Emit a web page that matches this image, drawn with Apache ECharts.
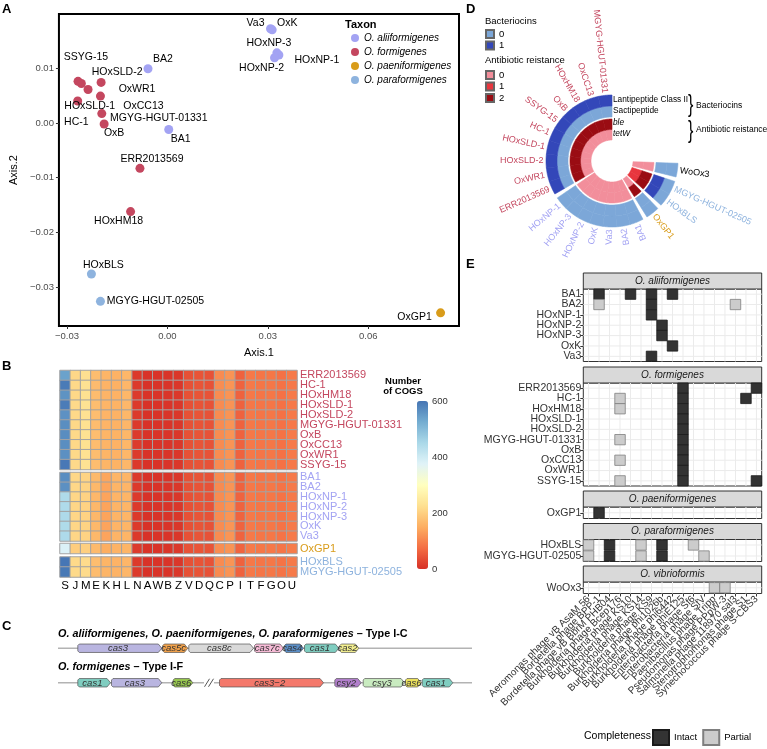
<!DOCTYPE html>
<html><head><meta charset="utf-8">
<script src="https://cdn.jsdelivr.net/npm/echarts@6/dist/echarts.min.js"></script>
<style>html,body{margin:0;padding:0;background:#fff}#c{width:767px;height:749px}</style>
</head><body><div id="c"></div>
<script>
const FONT = "'Liberation Sans', Arial, Helvetica, sans-serif";

// ================= Panel A data =================
const taxa = ['O. aliiformigenes','O. formigenes','O. paeniformigenes','O. paraformigenes'];
const taxonColors = ['#a3a3f3','#c4475f','#d99c1a','#8eb3de'];
const aStrains = ['Va3','OxK','HOxNP-3','HOxNP-1','HOxNP-2','BA2','BA1','SSYG-15','HC-1','OxWR1','HOxSLD-1','HOxSLD-2','OxCC13','MGYG-HGUT-01331','OxB','ERR2013569','HOxHM18','OxGP1','HOxBLS','MGYG-HGUT-02505'];
const aTaxon = [0,0,0,0,0,0,0,1,1,1,1,1,1,1,1,1,1,2,3,3];
const aAxis1 = [0.0308,0.0313,0.0327,0.0333,0.0320,-0.0058,0.0004,-0.0267,-0.0257,-0.0237,-0.0268,-0.0198,-0.0200,-0.0196,-0.0189,-0.0082,-0.0110,0.0816,-0.0227,-0.0200];
const aAxis2 = [0.0172,0.0170,0.0128,0.0124,0.0119,0.0099,-0.0012,0.0076,0.0072,0.0061,0.0040,0.0074,0.0049,0.0017,-0.0002,-0.0083,-0.0162,-0.0347,-0.0276,-0.0326];
const aTicks1 = [-0.03,0,0.03,0.06];
const aTicks2 = [-0.03,-0.02,-0.01,0,0.01];
// label placement (style only, pixels)
const aLabelOffset = {'Va3':[-15,-6],'OxK':[15,-7],'HOxNP-3':[-8,-10],'HOxNP-1':[38,5],'HOxNP-2':[-13,10],'BA2':[15,-10],'BA1':[12,10],'SSYG-15':[8,-24],'HC-1':[-5,39],'OxWR1':[49,0],'HOxSLD-1':[12,5],'HOxSLD-2':[16,-10],'OxCC13':[43,10],'MGYG-HGUT-01331':[57,4],'OxB':[10,9],'ERR2013569':[12,-9],'HOxHM18':[-12,10],'OxGP1':[-26,4],'HOxBLS':[12,-9],'MGYG-HGUT-02505':[55,0]};

// ================= Panel B data =================
const cogCats = ['S','J','M','E','K','H','L','N','A','W','B','Z','V','D','Q','C','P','I','T','F','G','O','U'];
const bRowsF = ['ERR2013569','HC-1','HOxHM18','HOxSLD-1','HOxSLD-2','MGYG-HGUT-01331','OxB','OxCC13','OxWR1','SSYG-15'];
const bValsF = [
 [540,212,226,172,160,156,163,12,3,4,5,9,40,44,42,110,120,62,88,84,86,80,90],
 [592,214,228,170,158,155,162,12,3,4,5,9,40,45,42,112,121,63,89,85,87,81,89],
 [560,213,227,171,159,156,163,13,4,4,6,10,41,44,43,111,120,62,88,84,86,80,90],
 [590,215,229,173,160,157,164,12,3,4,5,9,39,44,42,110,119,61,87,84,85,80,89],
 [562,214,228,172,159,156,163,12,3,4,5,9,40,44,42,111,120,62,88,84,86,80,90],
 [566,213,227,171,159,156,162,12,3,4,5,9,40,44,42,110,120,62,88,84,86,80,89],
 [568,214,228,172,160,157,163,12,3,4,5,9,40,44,42,111,120,62,88,85,86,81,90],
 [566,213,227,171,159,156,163,13,3,4,5,9,40,45,42,110,120,62,88,84,86,80,90],
 [564,214,228,172,160,156,163,12,3,4,5,9,40,44,42,111,120,62,88,84,86,80,90],
 [596,215,229,173,160,157,164,12,3,4,5,9,40,44,42,110,120,62,88,84,86,80,89]
];
const bRowsA = ['BA1','BA2','HOxNP-1','HOxNP-2','HOxNP-3','OxK','Va3'];
const bValsA = [
 [566,212,206,166,141,160,160,12,3,4,5,9,40,44,42,110,120,62,88,84,86,82,90],
 [564,212,206,165,140,160,161,12,3,4,5,9,40,44,42,110,120,62,88,84,86,82,90],
 [445,210,204,164,138,159,160,12,3,4,5,9,41,45,42,111,121,63,89,85,86,82,90],
 [445,210,204,164,138,159,160,12,3,4,5,9,41,45,42,111,121,63,89,85,86,82,90],
 [446,210,204,164,138,159,160,12,3,4,5,9,41,45,42,111,121,63,89,85,86,82,90],
 [444,210,205,165,139,159,160,12,3,4,5,9,41,45,42,111,121,63,89,85,86,82,90],
 [446,210,205,165,139,159,160,12,3,4,5,9,41,45,42,111,121,63,89,85,86,82,90]
];
const bRowsP = ['OxGP1'];
const bValsP = [[382,196,200,168,150,158,160,13,4,5,6,10,42,46,44,112,120,64,90,86,88,84,92]];
const bRowsR = ['HOxBLS','MGYG-HGUT-02505'];
const bValsR = [
 [598,216,218,172,160,158,162,12,3,4,5,9,40,44,42,110,120,62,88,84,86,82,90],
 [595,216,218,171,160,158,162,12,3,4,5,9,40,44,42,110,120,62,88,84,86,82,90]
];

// ================= Panel C data =================
const cSystems = ['I-C','I-F'];
const cHeadings = [['O. aliiformigenes, O. paeniformigenes, O. paraformigenes',' \u2013 Type I-C'],['O. formigenes',' \u2013 Type I-F']];
const geneNames  = ['cas3','cas5c','cas8c','cas7c','cas4','cas1','cas2','cas1','cas3','cas6','cas3\u22122','csy2','csy3','cas6','cas1'];
const geneStart  = [19.3,104.3,130.3,196,226,246,281.3, 19.3,53,114.7,161,276.3,304.7,347,363.7];
const geneEnd    = [104.3,130.3,196,226,246,281.3,301.3, 53,104.3,135.3,266,303.7,347,363.7,395.3];
const geneSystem = [0,0,0,0,0,0,0, 1,1,1,1,1,1,1,1];
const geneColor  = ['#b9b5e0','#f2a24b','#d9d9d9','#f8bcd8','#5b8ec6','#7fcdc0','#f3ef8f','#7fcdc0','#b9b5e0','#98c84f','#f4786b','#b27fcc','#c9ebc0','#ece25e','#7fcdc0'];
const backboneStart = [0, 0, 156];
const backboneEnd   = [414, 146, 414];
const backboneSys   = [0, 1, 1];
const breakPos = [149, 153];
const breakSys = [1, 1];

// ================= Panel D data =================
const dStrains = ['MGYG-HGUT-01331','OxCC13','HOxHM18','OxB','SSYG-15','HC-1','HOxSLD-1','HOxSLD-2','OxWR1','ERR2013569','HOxNP-1','HOxNP-3','HOxNP-2','OxK','Va3','BA2','BA1','OxGP1','HOxBLS','MGYG-HGUT-02505','WoOx3'];
const dGroup  = [0,0,0,0,0,0,0,0,0,0,1,1,1,1,1,1,1,2,3,3,4];
const dLanti  = [1,1,1,1,1,1,1,1,1,1,0,0,0,0,0,0,0,0,0,0,0];
const dSacti  = [0,0,0,0,0,0,0,0,0,0,0,0,0,0,0,0,0,0,1,1,0];
const dBle    = [2,2,2,2,2,2,2,2,2,2,0,0,0,0,0,0,0,2,2,2,0];
const dTetW   = [0,0,0,0,0,0,0,0,0,0,0,0,0,0,0,0,0,0,1,1,0];
const dGroupColor = ['#c4475f','#a3a3f3','#d99c1a','#8eb3de','#000000'];
const bacColors = ['#7ca7d8','#3347b9'];
const abrColors = ['#f28e9b','#e8363e','#9a0c13'];

// ================= Panel E data =================
const phages = ['Aeromonas phage vB AsaM 56','Bordetella phage BPP-1','Bordetella phage vB BbrM PHB04','Burkholderia phage Bcep176','Burkholderia phage KS10','Burkholderia phage KS14','Burkholderia phage KS9','Burkholderia phage phi1026b','Burkholderia phage phi6442','Burkholderia phage phiE125','Enterobacteria phage Sf6','Enterobacteria phage SfV','Paenibacillus phage Tripp','Pseudomonas phage PPpW-3','Salmonella phage 118970 sal3','Stenotrophomonas phage S1','Synechococcus phage S-CBS3'];
const eFacets = ['O. aliiformigenes','O. formigenes','O. paeniformigenes','O. paraformigenes','O. vibrioformis'];
const eRows = [
 ['BA1','BA2','HOxNP-1','HOxNP-2','HOxNP-3','OxK','Va3'],
 ['ERR2013569','HC-1','HOxHM18','HOxSLD-1','HOxSLD-2','MGYG-HGUT-01331','OxB','OxCC13','OxWR1','SSYG-15'],
 ['OxGP1'],
 ['HOxBLS','MGYG-HGUT-02505'],
 ['WoOx3']
];
// [strain, phage index (0-based), completeness]
const eHits = [
 [['BA1',1,'Intact'],['BA1',4,'Intact'],['BA1',6,'Intact'],['BA1',8,'Intact'],['BA2',1,'Partial'],['BA2',6,'Intact'],['BA2',14,'Partial'],['HOxNP-1',6,'Intact'],['HOxNP-2',7,'Intact'],['HOxNP-3',7,'Intact'],['OxK',8,'Intact'],['Va3',6,'Intact']],
 [['ERR2013569',9,'Intact'],['ERR2013569',16,'Intact'],['HC-1',3,'Partial'],['HC-1',9,'Intact'],['HC-1',15,'Intact'],['HOxHM18',3,'Partial'],['HOxHM18',9,'Intact'],['HOxSLD-1',9,'Intact'],['HOxSLD-2',9,'Intact'],['MGYG-HGUT-01331',3,'Partial'],['MGYG-HGUT-01331',9,'Intact'],['OxB',9,'Intact'],['OxCC13',3,'Partial'],['OxCC13',9,'Intact'],['OxWR1',9,'Intact'],['SSYG-15',3,'Partial'],['SSYG-15',9,'Intact'],['SSYG-15',16,'Intact']],
 [['OxGP1',1,'Intact']],
 [['HOxBLS',0,'Partial'],['HOxBLS',2,'Intact'],['HOxBLS',5,'Partial'],['HOxBLS',7,'Intact'],['HOxBLS',10,'Partial'],['MGYG-HGUT-02505',0,'Partial'],['MGYG-HGUT-02505',2,'Intact'],['MGYG-HGUT-02505',5,'Partial'],['MGYG-HGUT-02505',7,'Intact'],['MGYG-HGUT-02505',11,'Partial']],
 [['WoOx3',12,'Partial'],['WoOx3',13,'Partial']]
];
const completeness = ['Intact','Partial'];
const completenessFill = {'Intact':'#333333','Partial':'#cccccc'};
const completenessStroke = {'Intact':'#1a1a1a','Partial':'#7f7f7f'};

// ================= Layout (style) =================
const bLeft = 60, bWidth = 237;
const bTops = [370.5, 472.5, 543.5, 557];
const bHeights = [99, 68.5, 10, 20];
const eLeft = 583.3, eWidth = 178.4, eStripH = 16;
const eTops = [289, 383, 507, 539.5, 582];
const eHeights = [72.5, 103, 11.5, 22, 11.5];
const dCenter = [612, 161], dOuter = 66;
const dSlot = 12, dGap = 4, dLabelR = 68.5;
const dRingR = [[55,66],[44,55],[31.5,42],[21,31.5]];

// ================= Build =================
const grids = [], xAxes = [], yAxes = [], series = [], titles = [], graphics = [];
const tickStyle = {show:true, length:3, lineStyle:{color:'#333', width:1}};
const edgeLabels = {showMinLabel:true, showMaxLabel:true};

// ---- A
grids.push({left:55, top:14, width:404, height:312, show:true, borderColor:'#000', borderWidth:2, backgroundColor:'rgba(0,0,0,0)'});
const fmtA = v => (v < -1e-9 ? '\u2212' : '') + Math.abs(v).toFixed(2);
xAxes.push({gridIndex:0, type:'value', min:-0.0324, max:0.0871, name:'Axis.1', nameLocation:'middle', nameGap:21,
  nameTextStyle:{fontSize:11, color:'#000', fontFamily:FONT},
  axisLine:{show:false, onZero:false}, splitLine:{show:false},
  axisTick:Object.assign({customValues:aTicks1}, tickStyle),
  axisLabel:Object.assign({customValues:aTicks1, formatter:fmtA, fontSize:9.5, color:'#4d4d4d', margin:5, fontFamily:FONT}, edgeLabels)});
yAxes.push({gridIndex:0, type:'value', min:-0.0371, max:0.0199, name:'Axis.2', nameLocation:'middle', nameGap:37, nameRotate:90,
  nameTextStyle:{fontSize:11, color:'#000', fontFamily:FONT},
  axisLine:{show:false, onZero:false}, splitLine:{show:false},
  axisTick:Object.assign({customValues:aTicks2}, tickStyle),
  axisLabel:Object.assign({customValues:aTicks2, formatter:fmtA, fontSize:9.5, color:'#4d4d4d', margin:5, fontFamily:FONT}, edgeLabels)});
taxa.forEach((t, ti) => {
  const data = [];
  aStrains.forEach((s, i) => { if (aTaxon[i] === ti) data.push({name:s, value:[aAxis1[i], aAxis2[i]], label:{offset:aLabelOffset[s]}}); });
  series.push({type:'scatter', name:t, xAxisIndex:0, yAxisIndex:0, symbolSize:9, itemStyle:{color:taxonColors[ti], opacity:1},
    data, label:{show:true, position:'inside', formatter:'{b}', fontSize:10.5, color:'#000', fontFamily:FONT}, emphasis:{disabled:true}});
});

// ---- B
const bGroups = [[bRowsF,bValsF,1],[bRowsA,bValsA,0],[bRowsP,bValsP,2],[bRowsR,bValsR,3]];
const bSeriesIdx = [];
bGroups.forEach((g, gi) => {
  const gridIndex = grids.length;
  grids.push({left:bLeft, top:bTops[gi], width:bWidth, height:bHeights[gi]});
  const last = gi === bGroups.length - 1;
  xAxes.push({gridIndex, type:'category', data:cogCats, axisLine:{show:false}, axisTick:{show:false}, splitLine:{show:false},
    axisLabel:{show:last, interval:0, fontSize:11.5, color:'#000', margin:3, fontFamily:FONT}});
  yAxes.push({gridIndex, type:'category', data:g[0], inverse:true, position:'right', axisLine:{show:false}, axisTick:{show:false}, splitLine:{show:false},
    axisLabel:{interval:0, fontSize:11, color:taxonColors[g[2]], margin:3, fontFamily:FONT}});
  const data = [];
  g[1].forEach((row, r) => row.forEach((v, c) => data.push([c, r, v])));
  bSeriesIdx.push(series.length);
  series.push({type:'heatmap', xAxisIndex:gridIndex, yAxisIndex:gridIndex, data,
    itemStyle:{borderColor:'#a3a3a3', borderWidth:1}, emphasis:{disabled:true}});
});
// colour bar axis
{
  const gridIndex = grids.length;
  grids.push({left:417, top:401, width:11, height:168});
  xAxes.push({gridIndex, type:'value', show:false, min:0, max:1});
  yAxes.push({gridIndex, type:'value', min:0, max:600, interval:200, position:'right',
    axisLine:{show:false}, splitLine:{show:false},
    axisTick:{show:true, inside:true, length:2, lineStyle:{color:'#fff'}},
    axisLabel:Object.assign({fontSize:9.5, color:'#333', margin:4, fontFamily:FONT}, edgeLabels)});
}

// ---- C
{
  const gridIndex = grids.length;
  grids.push({left:58, top:631, width:414, height:69});
  xAxes.push({gridIndex, type:'value', min:0, max:414, show:false});
  yAxes.push({gridIndex, type:'category', data:cSystems, inverse:true, show:false});
  series.push({type:'custom', name:'backbone', xAxisIndex:gridIndex, yAxisIndex:gridIndex,
    data: backboneStart.map((s, i) => [s, backboneEnd[i], backboneSys[i]]), encode:{x:[0,1], y:2},
    renderItem:(params, api) => {
      const a = api.coord([api.value(0), api.value(2)]), b = api.coord([api.value(1), api.value(2)]);
      return {type:'line', shape:{x1:a[0], y1:a[1], x2:b[0], y2:b[1]}, style:{stroke:'#b3b3b3', lineWidth:1.5}};
    }, silent:true});
  series.push({type:'custom', name:'breaks', xAxisIndex:gridIndex, yAxisIndex:gridIndex,
    data: breakPos.map((p, i) => [p, breakSys[i]]), encode:{x:0, y:1},
    renderItem:(params, api) => {
      const p = api.coord([api.value(0), api.value(1)]);
      return {type:'line', shape:{x1:p[0]-2.5, y1:p[1]+4, x2:p[0]+2.5, y2:p[1]-4}, style:{stroke:'#555', lineWidth:1}};
    }, silent:true});
  series.push({type:'custom', name:'genes', xAxisIndex:gridIndex, yAxisIndex:gridIndex,
    data: geneStart.map((s, i) => [s, geneEnd[i], geneSystem[i]]), encode:{x:[0,1], y:2},
    renderItem:(params, api) => {
      const i = params.dataIndex;
      const s = api.coord([api.value(0), api.value(2)]), e = api.coord([api.value(1), api.value(2)]);
      const h = api.size([0, 1])[1] * 0.245;
      const yc = s[1], x0 = s[0] + 0.5, x1 = e[0] - 0.5;
      const tip = Math.min(3.5, (x1 - x0) * 0.3), r = 1.5;
      return {type:'group', children:[
        {type:'polygon', shape:{points:[[x0+r,yc-h/2],[x1-tip,yc-h/2],[x1,yc],[x1-tip,yc+h/2],[x0+r,yc+h/2],[x0,yc+h/2-r],[x0,yc-h/2+r]]},
          style:{fill:geneColor[i], stroke:'#555', lineWidth:0.7}},
        {type:'text', x:(x0 + x1 - tip) / 2, y:yc + 0.5, style:{text:geneNames[i], align:'center', verticalAlign:'middle', fontSize:9.5, fontStyle:'italic', fill:'#333', fontFamily:FONT}}
      ]};
    }, silent:true});
}

// ---- D (polar)
const dStartAngle = dStrains.map((s, i) => i * dSlot + dGroup[i] * dGap);
const dCells = {'bac-0':[], 'bac-1':[], 'abr-0':[], 'abr-1':[], 'abr-2':[]};
dStrains.forEach((s, i) => {
  const a0 = dStartAngle[i], a1 = a0 + dSlot;
  dCells['bac-' + dLanti[i]].push([a0, a1, dRingR[0][0], dRingR[0][1]]);
  dCells['bac-' + dSacti[i]].push([a0, a1, dRingR[1][0], dRingR[1][1]]);
  dCells['abr-' + dBle[i]].push([a0, a1, dRingR[2][0], dRingR[2][1]]);
  dCells['abr-' + dTetW[i]].push([a0, a1, dRingR[3][0], dRingR[3][1]]);
});
const sectorRender = (params, api) => {
  const a0 = api.value(0), a1 = api.value(1), r0 = api.value(2), r1 = api.value(3);
  const n = Math.max(4, Math.ceil(Math.abs(a1 - a0) * 2));
  const pts = [];
  for (let k = 0; k <= n; k++) pts.push(api.coord([r1, a0 + (a1 - a0) * k / n]));
  for (let k = n; k >= 0; k--) pts.push(api.coord([r0, a0 + (a1 - a0) * k / n]));
  const col = api.visual('color');
  return {type:'polygon', shape:{points:pts}, style:{fill:col, stroke:col, lineWidth:0.6}};
};
Object.keys(dCells).forEach(k => {
  const parts = k.split('-');
  const col = parts[0] === 'bac' ? bacColors[+parts[1]] : abrColors[+parts[1]];
  series.push({type:'custom', name:k, coordinateSystem:'polar', polarIndex:0, data:dCells[k],
    dimensions:['a0','a1','r0','r1'], encode:{angle:[0,1], radius:[2,3]},
    itemStyle:{color:col, borderColor:'#666', borderWidth:0.5}, renderItem:sectorRender, silent:true});
});
series.push({type:'custom', name:'dLabels', coordinateSystem:'polar', polarIndex:0,
  data: dStrains.map((s, i) => [dStartAngle[i] + dSlot / 2, dLabelR]),
  dimensions:['angle','radius'], encode:{angle:0, radius:1}, silent:true,
  renderItem:(params, api) => {
    const i = params.dataIndex, cs = params.coordSys;
    const p = api.coord([api.value(1), api.value(0)]);
    const phi = Math.atan2(-(p[1] - cs.cy), p[0] - cs.cx);
    let deg = phi * 180 / Math.PI; if (deg < 0) deg += 360;
    const inward = deg > 90 && deg < 300;
    return {type:'text', x:p[0], y:p[1], rotation: inward ? phi + Math.PI : phi,
      style:{text:dStrains[i], align: inward ? 'right' : 'left', verticalAlign:'middle', fontSize:9, fill:dGroupColor[dGroup[i]], fontFamily:FONT}};
  }});

// ---- E facets (category axes, every label shown)
eFacets.forEach((f, fi) => {
  const gridIndex = grids.length;
  grids.push({left:eLeft, top:eTops[fi], width:eWidth, height:eHeights[fi], show:true, borderColor:'#333', borderWidth:1, backgroundColor:'#fff'});
  const last = fi === eFacets.length - 1;
  xAxes.push({gridIndex, type:'category', data:phages, axisLine:{show:false, onZero:false}, splitLine:{show:false},
    axisTick:{show:last, alignWithLabel:true, interval:0, length:3, lineStyle:{color:'#333'}},
    axisLabel:{show:last, interval:0, rotate:45, fontSize:10, color:'#333', margin:4, fontFamily:FONT}});
  yAxes.push({gridIndex, type:'category', data:eRows[fi], inverse:true, axisLine:{show:false, onZero:false}, splitLine:{show:false},
    axisTick:{show:true, alignWithLabel:true, interval:0, length:3, lineStyle:{color:'#333'}},
    axisLabel:{interval:0, fontSize:10.5, color:'#333', margin:2, fontFamily:FONT}});
  // light panel grid lines at every category
  const gl = phages.map((p, i) => [i, 0, 0]).concat(eRows[fi].map((r, i) => [0, i, 1]));
  series.push({type:'custom', name:'grid-' + fi, xAxisIndex:gridIndex, yAxisIndex:gridIndex, data:gl, encode:{x:0, y:1}, silent:true, z:1,
    renderItem:(params, api) => {
      const cs = params.coordSys, p = api.coord([api.value(0), api.value(1)]);
      const vert = api.value(2) === 0;
      return {type:'line', shape: vert ? {x1:p[0], y1:cs.y, x2:p[0], y2:cs.y + cs.height} : {x1:cs.x, y1:p[1], x2:cs.x + cs.width, y2:p[1]},
        style:{stroke:'#ebebeb', lineWidth:1}};
    }});
  completeness.forEach(cmp => {
    const data = eHits[fi].filter(hh => hh[2] === cmp).map(hh => [hh[1], eRows[fi].indexOf(hh[0])]);
    series.push({type:'custom', name:cmp, xAxisIndex:gridIndex, yAxisIndex:gridIndex, data, encode:{x:0, y:1}, silent:true, z:2,
      itemStyle:{color:completenessFill[cmp], borderColor:completenessStroke[cmp], borderWidth:1},
      renderItem:(params, api) => {
        const p = api.coord([api.value(0), api.value(1)]);
        const s = api.size([1, 1]);
        const w = s[0], hh = Math.min(s[1], 10.3);
        return {type:'rect', shape:{x:p[0] - w / 2, y:p[1] - hh / 2, width:w, height:hh},
          style:{fill:completenessFill[cmp], stroke:completenessStroke[cmp], lineWidth:0.8}};
      }});
  });
  graphics.push({type:'rect', shape:{x:eLeft, y:eTops[fi] - eStripH, width:eWidth, height:eStripH},
    style:{fill:'#d9d9d9', stroke:'#333', lineWidth:1}, silent:true});
  graphics.push({type:'text', x:eLeft + eWidth / 2, y:eTops[fi] - eStripH / 2,
    style:{text:f, align:'center', verticalAlign:'middle', fontSize:10, fontStyle:'italic', fill:'#1a1a1a', fontFamily:FONT}, silent:true});
});

// ---- Titles / text
const T = (text, left, top, st) => ({text, left, top, padding:0, textStyle:Object.assign({fontFamily:FONT, color:'#000', fontWeight:'normal', fontSize:10}, st || {})});
titles.push(T('A', 2, 3, {fontSize:13, fontWeight:'bold'}));
titles.push(T('B', 2, 360, {fontSize:13, fontWeight:'bold'}));
titles.push(T('C', 2, 620, {fontSize:13, fontWeight:'bold'}));
titles.push(T('D', 466, 3, {fontSize:13, fontWeight:'bold'}));
titles.push(T('E', 466, 258, {fontSize:13, fontWeight:'bold'}));
titles.push(T('Taxon', 345, 19, {fontSize:11, fontWeight:'bold'}));
titles.push(Object.assign(T('Number\nof COGS', 403, 376, {fontSize:9.5, fontWeight:'bold', lineHeight:10}), {textAlign:'center'}));
cHeadings.forEach((hd, i) => {
  titles.push({left:58, top: i === 0 ? 628.5 : 661.5, padding:0, text:'{bi|' + hd[0] + '}{b|' + hd[1] + '}',
    textStyle:{rich:{bi:{fontSize:10.8, fontWeight:'bold', fontStyle:'italic', fontFamily:FONT, color:'#000'}, b:{fontSize:10.8, fontWeight:'bold', fontFamily:FONT, color:'#000'}}}});
});
titles.push(T('Lantipeptide Class II', 613, 95.5, {fontSize:8.3}));
titles.push(T('Sactipeptide', 613, 106.5, {fontSize:8.3}));
titles.push(T('ble', 613, 119, {fontSize:8.3, fontStyle:'italic'}));
titles.push(T('tetW', 613, 130, {fontSize:8.3, fontStyle:'italic'}));
titles.push(T('Bacteriocins', 696, 101.5, {fontSize:8.5}));
titles.push(T('Antibiotic reistance', 696, 125.5, {fontSize:8.5}));
titles.push(T('Bacteriocins', 485, 16, {fontSize:9.5}));
titles.push(T('Antibiotic reistance', 485, 55, {fontSize:9.5}));
titles.push(T('Completeness', 584, 731, {fontSize:10.5}));
graphics.push({type:'text', x:688, y:106, scaleX:0.7, style:{text:'}', fontSize:23, fill:'#000', verticalAlign:'middle', fontFamily:FONT}, silent:true});
graphics.push({type:'text', x:688, y:132, scaleX:0.7, style:{text:'}', fontSize:23, fill:'#000', verticalAlign:'middle', fontFamily:FONT}, silent:true});

const option = {
  animation:false,
  backgroundColor:'#fff',
  textStyle:{fontFamily:FONT},
  title:titles,
  grid:grids, xAxis:xAxes, yAxis:yAxes,
  polar:[{center:dCenter, radius:[0, dOuter]}],
  angleAxis:[{polarIndex:0, type:'value', min:0, max:360, startAngle:90, clockwise:false, show:false}],
  radiusAxis:[{polarIndex:0, type:'value', min:0, max:dOuter, show:false}],
  visualMap:[{type:'continuous', min:0, max:600, seriesIndex:bSeriesIdx, dimension:2, left:417, top:401, itemWidth:11, itemHeight:168,
    padding:0, calculable:false, hoverLink:false, realtime:false, text:null,
    inRange:{color:['#d73027','#f46d43','#fdae61','#fee090','#ffffbf','#e0f3f8','#abd9e9','#74add1','#4575b4']}}],
  legend:[
    {data:taxa, orient:'vertical', left:351, top:32, itemWidth:8, itemHeight:8, itemGap:2, icon:'circle', selectedMode:false, padding:0,
      textStyle:{fontSize:10, fontStyle:'italic', color:'#000', fontFamily:FONT, lineHeight:12}},
    {data:['bac-0','bac-1'], orient:'vertical', left:485, top:29, itemWidth:8, itemHeight:8, itemGap:1.5, icon:'rect', selectedMode:false, padding:0,
      formatter:n => n.split('-')[1], textStyle:{fontSize:9.5, color:'#000', fontFamily:FONT, lineHeight:9}},
    {data:['abr-0','abr-1','abr-2'], orient:'vertical', left:485, top:70, itemWidth:8, itemHeight:8, itemGap:1.5, icon:'rect', selectedMode:false, padding:0,
      formatter:n => n.split('-')[1], textStyle:{fontSize:9.5, color:'#000', fontFamily:FONT, lineHeight:9}},
    {data:completeness, orient:'horizontal', left:652, top:729, itemWidth:16, itemHeight:15, itemGap:5, icon:'rect', selectedMode:false, padding:0,
      textStyle:{fontSize:9.5, color:'#000', fontFamily:FONT}}
  ],
  graphic:graphics,
  series
};
const chart = echarts.init(document.getElementById('c'), null, {renderer:'canvas', width:767, height:749});
chart.setOption(option);
</script>
</body></html>
